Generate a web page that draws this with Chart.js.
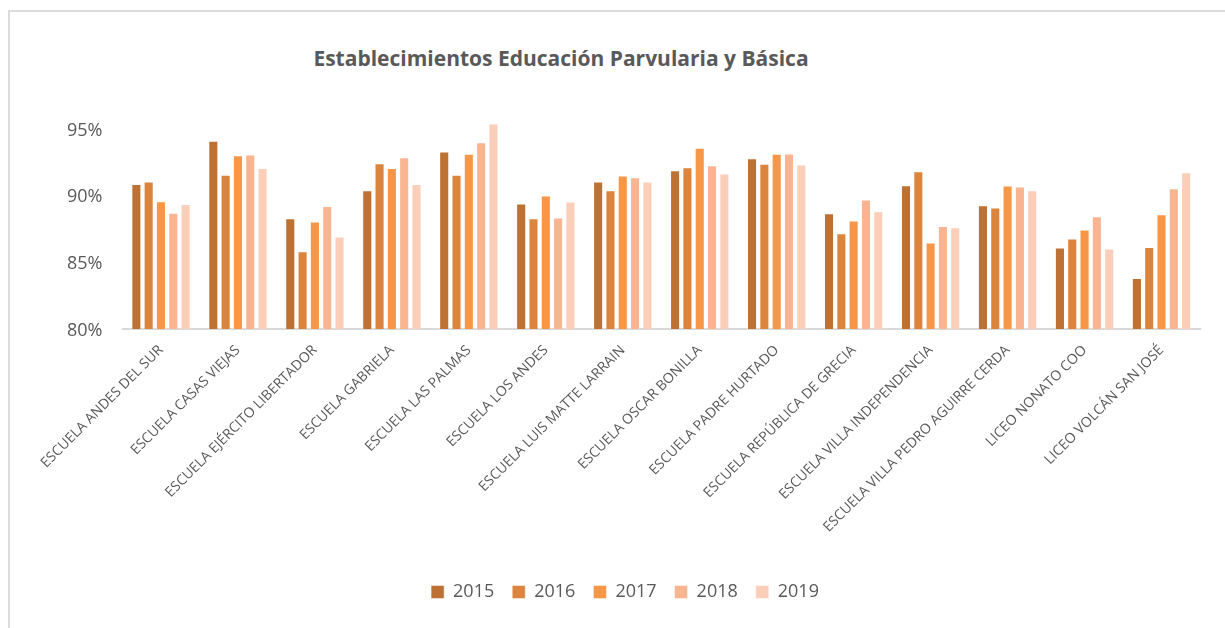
<!DOCTYPE html>
<html lang="es">
<head>
<meta charset="utf-8">
<title>Establecimientos Educación Parvularia y Básica</title>
<script src="https://cdn.jsdelivr.net/npm/chart.js@4/dist/chart.umd.min.js"></script>
<style>
  html, body {
    margin: 0;
    padding: 0;
    background: #ffffff;
    overflow: hidden;
  }
  #wrap {
    position: relative;
    width: 1225px;
    height: 628px;
  }
  #frame {
    position: absolute;
    left: 8px;
    top: 10px;
    width: 1400px;
    height: 800px;
    border: 2px solid #dcdcdc;
  }
  #title {
    position: absolute;
    left: 0;
    top: 44px;
    width: 1122px;
    text-align: center;
    font-family: 'Open Sans', sans-serif;
    font-weight: 700;
    font-size: 21px;
    color: #595959;
  }
  #chart {
    position: absolute;
    left: 0;
    top: 0;
  }
</style>
</head>
<body>
<div id="wrap">
  <div id="frame"></div>
  <div id="title">Establecimientos Educación Parvularia y Básica</div>
  <canvas id="chart" width="1225" height="628"></canvas>
</div>

<script>
// ─────────────────────────────────────────
//  Data
// ─────────────────────────────────────────

const schools = [
  'ESCUELA ANDES DEL SUR',
  'ESCUELA CASAS VIEJAS',
  'ESCUELA EJÉRCITO LIBERTADOR',
  'ESCUELA GABRIELA',
  'ESCUELA LAS PALMAS',
  'ESCUELA LOS ANDES',
  'ESCUELA LUIS MATTE LARRAIN',
  'ESCUELA OSCAR BONILLA',
  'ESCUELA PADRE HURTADO',
  'ESCUELA REPÚBLICA DE GRECIA',
  'ESCUELA VILLA INDEPENDENCIA',
  'ESCUELA VILLA PEDRO AGUIRRE CERDA',
  'LICEO NONATO COO',
  'LICEO VOLCÁN SAN JOSÉ'
];

const years = ['2015', '2016', '2017', '2018', '2019'];

// attendance, in percent
const v2015 = [90.84, 94.08, 88.28, 90.37, 93.28, 89.38, 91.02, 91.87, 92.76, 88.66, 90.75, 89.25, 86.10, 83.81];
const v2016 = [91.02, 91.54, 85.82, 92.39, 91.54, 88.28, 90.37, 92.09, 92.36, 87.16, 91.79, 89.08, 86.77, 86.14];
const v2017 = [89.55, 92.99, 88.04, 92.04, 93.11, 89.98, 91.47, 93.56, 93.11, 88.11, 86.47, 90.72, 87.44, 88.58];
const v2018 = [88.70, 93.04, 89.20, 92.84, 93.96, 88.34, 91.34, 92.24, 93.13, 89.68, 87.71, 90.65, 88.43, 90.52];
const v2019 = [89.35, 92.04, 86.92, 90.84, 95.37, 89.53, 91.02, 91.62, 92.29, 88.81, 87.61, 90.37, 86.02, 91.72];

const yTicks = [80, 85, 90, 95];

const seriesColors = ['#bd7233', '#db843e', '#f79646', '#f9b592', '#fbceb9'];

// ─────────────────────────────────────────
//  Chart
// ─────────────────────────────────────────

const textColor = '#595959';
Chart.defaults.font.family = "'Open Sans', sans-serif";
Chart.defaults.color = textColor;

// shift the legend a little to the right, like the original
const legendShift = {
  id: 'legendShift',
  afterLayout(chart) {
    const lg = chart.legend;
    if (!lg) return;
    lg.left  += 25;
    lg.right += 25;
  }
};

const seriesData = [v2015, v2016, v2017, v2018, v2019];

new Chart(document.getElementById('chart'), {
  type: 'bar',
  data: {
    labels: schools,
    datasets: years.map((y, i) => ({
      label:              y,
      data:               seriesData[i],
      backgroundColor:    seriesColors[i],
      borderColor:        'rgba(255,255,255,0.45)',
      borderWidth:        1,
      categoryPercentage: 0.8,
      barPercentage:      0.82
    }))
  },
  options: {
    responsive: false,
    animation:  false,
    layout: {
      padding: { top: 115, left: 0, right: 25, bottom: 17 }
    },
    plugins: {
      title:   { display: false },
      tooltip: { enabled: false },
      legend: {
        position: 'bottom',
        labels: {
          boxWidth:  13,
          boxHeight: 13,
          padding:   18,
          color:     textColor,
          font:      { size: 18 }
        }
      }
    },
    scales: {
      x: {
        grid:   { display: false },
        border: { display: true, color: '#d9d9d9', width: 2 },
        ticks: {
          autoSkip:    false,
          minRotation: 45,
          maxRotation: 45,
          padding:     5,
          color:       textColor,
          font:        { size: 14 }
        },
        afterFit(scale) { scale.height = 236; }
      },
      y: {
        min: 80,
        max: 96,
        grid:   { display: false, drawTicks: false },
        border: { display: false },
        ticks: {
          padding:     20,
          labelOffset: 2,
          color:       textColor,
          font:        { size: 18 },
          callback:    (v) => v + '%'
        },
        afterBuildTicks(scale) {
          scale.ticks = yTicks.map(v => ({ value: v }));
        },
        afterFit(scale) { scale.width = 122.5; }
      }
    }
  },
  plugins: [legendShift]
});
</script>
</body>
</html>
